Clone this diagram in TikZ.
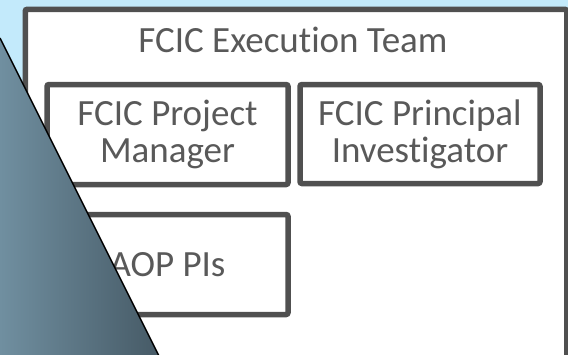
\documentclass[tikz,border=0pt]{standalone}
\usepackage{fontspec}
\setmainfont{Carlito}[RawFeature={-liga;-dlig;-calt}]
\definecolor{skyback}{RGB}{195,234,251}
\definecolor{frame}{RGB}{80,80,80}
\definecolor{ink}{RGB}{89,89,89}
\definecolor{wedgelight}{RGB}{112,143,160}
\definecolor{wedgedark}{RGB}{70,90,102}
\tikzset{
  rolebox/.style={draw=frame, line width=5.5pt, fill=white, rounded corners=2pt,
    inner sep=0pt, align=center, text=ink,
    font=\fontsize{37}{37}\selectfont},
  titletext/.style={text=ink, inner sep=0pt, font=\fontsize{37}{37}\selectfont},
}
\begin{document}
\begin{tikzpicture}[x=1pt,y=-1pt]
  \useasboundingbox (0,0) rectangle (568,354);
  % light background
  \fill[skyback] (0,0) rectangle (568,354);
  % team frame
  \node[rolebox, minimum width=541.5pt, minimum height=349.5pt, anchor=north west]
    (team) at (22.5,6.5) {};
  \node[titletext, anchor=base] (title) at (293,52) {FCIC Execution Team};
  % member boxes
  \node[rolebox, minimum width=241pt, minimum height=100pt] (pm) at (167.5,134.5)
    {FCIC Project\\Manager};
  \node[rolebox, minimum width=240pt, minimum height=99pt] (pi) at (420,134)
    {FCIC Principal\\Investigator};
  \node[rolebox, minimum width=241pt, minimum height=100pt] (aop) at (167.5,264.5)
    {AOP PIs};
  % shaded wedge over the left side
  \shade[left color=wedgelight, right color=wedgedark]
    (0,38) -- (159,356) -- (0,356) -- cycle;
  \draw[black, line width=1.5pt] (0,38) -- (159,356);
\end{tikzpicture}
\end{document}
